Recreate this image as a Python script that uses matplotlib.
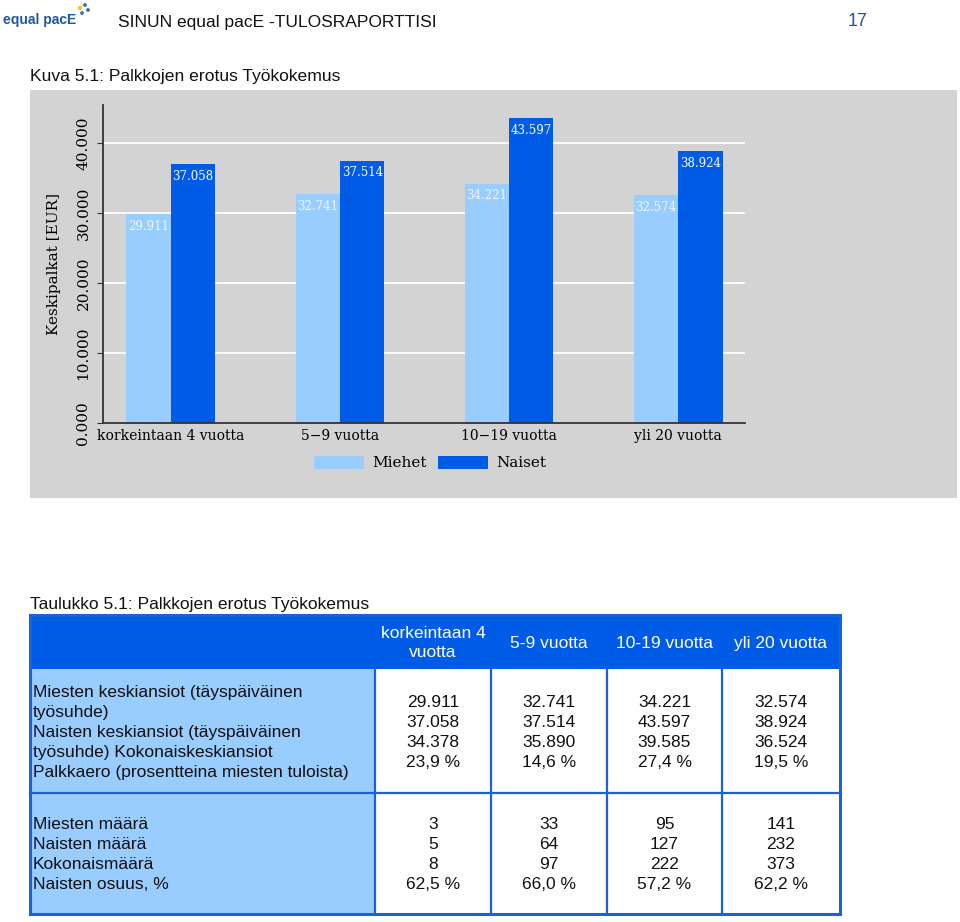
import matplotlib
matplotlib.use("Agg")
import matplotlib.pyplot as plt
from matplotlib.patches import Rectangle
from matplotlib.ticker import FuncFormatter

# data
categories = ["korkeintaan 4 vuotta", "5\u22129 vuotta", "10\u221219 vuotta", "yli 20 vuotta"]
miehet = [29911, 32741, 34221, 32574]
naiset = [37058, 37514, 43597, 38924]
kokonais = [34378, 35890, 39585, 36524]
palkkaero = ["23,9 %", "14,6 %", "27,4 %", "19,5 %"]
miesten_maara = [3, 33, 95, 141]
naisten_maara = [5, 64, 127, 232]
kokonaismaara = [8, 97, 222, 373]
naisten_osuus = ["62,5 %", "66,0 %", "57,2 %", "62,2 %"]
table_headers = ["korkeintaan 4\nvuotta", "5-9 vuotta", "10-19 vuotta", "yli 20 vuotta"]
labels_1 = ["Miesten keskiansiot (täyspäiväinen", "työsuhde)",
            "Naisten keskiansiot (täyspäiväinen", "työsuhde) Kokonaiskeskiansiot",
            "Palkkaero (prosentteina miesten tuloista)"]
labels_2 = ["Miesten määrä", "Naisten määrä", "Kokonaismäärä", "Naisten osuus, %"]

C_MEN = "#99ccff"
C_WOMEN = "#005ce6"
C_BORDER = "#1a62d8"
GRAY = "#d3d3d3"
SANS = "Liberation Sans"
SERIF = "DejaVu Serif"


def fmt(v):
    return f"{v:,}".replace(",", ".")


W, H = 960, 922
fig = plt.figure(figsize=(W / 100, H / 100), dpi=100)

# page layer in pixel coordinates
bg = fig.add_axes([0, 0, 1, 1])
bg.set_xlim(0, W)
bg.set_ylim(H, 0)
bg.axis("off")

# header
bg.text(3, 20, "equal pacE", fontsize=10, fontweight="bold", color="#1f57a6",
        family=SANS, va="center")
bg.scatter([80, 85, 88, 82], [8, 5, 10, 13], s=[5, 3, 3, 3],
           color=["#f2c230", "#3a6fc0", "#3a6fc0", "#3a6fc0"], zorder=3)
bg.text(118, 22, "SINUN equal pacE -TULOSRAPORTTISI", fontsize=12.5, family=SANS,
        va="center", color="#111111")
bg.text(848, 22, "17", fontsize=13, family=SANS, va="center", color="#2452a8")
bg.text(30, 77, "Kuva 5.1: Palkkojen erotus Työkokemus", fontsize=12.6, family=SANS,
        va="center", color="#111111")

# gray chart panel
bg.add_patch(Rectangle((30, 90), 927, 408, facecolor=GRAY, edgecolor="none"))

# chart
ax = fig.add_axes([103 / W, 1 - 423 / H, 642 / W, 318 / H])
ax.set_facecolor("none")
x = range(len(categories))
bw = 0.263
b1 = ax.bar([i - bw / 2 for i in x], miehet, bw, color=C_MEN, label="Miehet", zorder=2)
b2 = ax.bar([i + bw / 2 for i in x], naiset, bw, color=C_WOMEN, label="Naiset", zorder=2)
for bars, col in ((b1, "#f2f6ff"), (b2, "white")):
    for r in bars:
        ax.annotate(fmt(int(r.get_height())), (r.get_x() + r.get_width() / 2, r.get_height()),
                    xytext=(0, -4), textcoords="offset points", ha="center", va="top",
                    fontsize=8.5, family=SERIF, color=col, zorder=3)

ax.set_xlim(-0.402, 3.396)
ax.set_ylim(0, 45500)
ax.set_yticks([0, 10000, 20000, 30000, 40000])
ax.yaxis.set_major_formatter(FuncFormatter(lambda v, p: f"{v / 1000:.3f}"))
ax.grid(axis="y", color="white", linewidth=1.2, zorder=0)
ax.set_axisbelow(True)
ax.set_xticks(list(x))
ax.set_xticklabels(categories, family=SERIF, fontsize=10)
ax.tick_params(axis="x", length=0, pad=4)
ax.tick_params(axis="y", length=4, color="#333333", pad=5, labelsize=11)
for lab in ax.get_yticklabels():
    lab.set_family(SERIF)
    lab.set_rotation(90)
    lab.set_va("center")
for s in ("top", "right"):
    ax.spines[s].set_visible(False)
for s in ("left", "bottom"):
    ax.spines[s].set_color("#333333")
    ax.spines[s].set_linewidth(1.3)
ax.set_ylabel("Keskipalkat [EUR]", family=SERIF, fontsize=11)
ax.yaxis.set_label_coords(-0.066, 0.5)

fig.legend(handles=[b1, b2], loc="center", bbox_to_anchor=(430 / W, 1 - 463 / H),
           ncol=2, frameon=False, prop={"family": SERIF, "size": 11},
           handlelength=3.3, handleheight=0.95, handletextpad=0.55, columnspacing=0.7)

# table
bg.text(30, 604, "Taulukko 5.1: Palkkojen erotus Työkokemus", fontsize=12.6, family=SANS,
        va="center", color="#111111")
col_edges = [30, 375, 491, 607, 722, 840]
row_edges = [615, 669, 793, 914]
tw = col_edges[-1] - col_edges[0]
bg.add_patch(Rectangle((col_edges[0], row_edges[0]), tw, row_edges[1] - row_edges[0],
                       facecolor=C_WOMEN, edgecolor="none", zorder=1))
bg.add_patch(Rectangle((col_edges[0], row_edges[1]), col_edges[1] - col_edges[0],
                       row_edges[3] - row_edges[1], facecolor=C_MEN, edgecolor="none", zorder=1))
for xe in col_edges[1:-1]:
    bg.plot([xe, xe], [row_edges[1], row_edges[3]], color=C_BORDER, lw=1.6, zorder=2)
bg.plot([col_edges[0], col_edges[-1]], [row_edges[2], row_edges[2]], color=C_BORDER, lw=1.6, zorder=2)
bg.add_patch(Rectangle((col_edges[0], row_edges[0]), tw, row_edges[3] - row_edges[0],
                       facecolor="none", edgecolor=C_BORDER, lw=2.2, zorder=3))

fs = 12.5
centers = [(col_edges[i] + col_edges[i + 1]) / 2 for i in range(1, 5)]
for cx, h in zip(centers, table_headers):
    bg.text(cx, 643, h, ha="center", va="center", color="white", fontsize=fs,
            family=SANS, linespacing=1.3)

for k, t in enumerate(labels_1):
    bg.text(33, 692 + 20.1 * k, t, va="center", fontsize=fs, family=SANS, color="#111111")
for k, t in enumerate(labels_2):
    bg.text(33, 824 + 20.3 * k, t, va="center", fontsize=fs, family=SANS, color="#111111")

for i, cx in enumerate(centers):
    block1 = [fmt(miehet[i]), fmt(naiset[i]), fmt(kokonais[i]), palkkaero[i]]
    block2 = [str(miesten_maara[i]), str(naisten_maara[i]), str(kokonaismaara[i]), naisten_osuus[i]]
    for k, t in enumerate(block1):
        bg.text(cx, 702 + 20.1 * k, t, ha="center", va="center", fontsize=fs,
                family=SANS, color="#111111")
    for k, t in enumerate(block2):
        bg.text(cx, 824 + 20.3 * k, t, ha="center", va="center", fontsize=fs,
                family=SANS, color="#111111")

fig.savefig("out.png", dpi=100)
